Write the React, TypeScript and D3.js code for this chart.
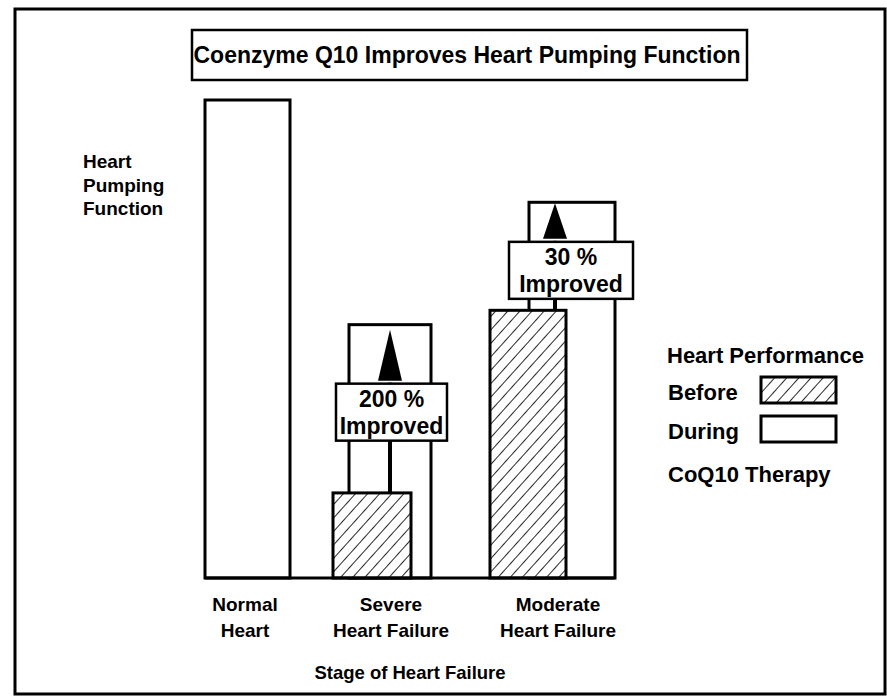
import React, { useEffect, useRef } from 'react';
import * as d3 from 'd3';

// categories along the x axis
const categories = ['Normal', 'Severe', 'Moderate'];
const categoryLabels = [['Normal', 'Heart'], ['Severe', 'Heart Failure'], ['Moderate', 'Heart Failure']];

// heart pumping function (normal heart = 100)
const beforeValues = [null, 17.8, 56];
const duringValues = [100, 53, 78.6];
const improvementLabels = [null, '200 %', '30 %'];

const yLabelLines = ['Heart', 'Pumping', 'Function'];
const legendTitle = 'Heart Performance';
const legendItems = ['Before', 'During'];
const legendFooter = 'CoQ10 Therapy';
const chartTitle = 'Coenzyme Q10 Improves Heart Pumping Function';
const xTitle = 'Stage of Heart Failure';

// hand-drawn layout of each group, offsets from the band start (px)
const groupLayout = [
  { duringX: 0, duringW: 85, beforeX: 0, beforeW: 0, arrowX: 0, boxX: 0, boxW: 0, boxT: 0, tipGap: 0, labelX: 40 },
  { duringX: 4, duringW: 82, beforeX: -12, beforeW: 78, arrowX: 45, boxX: -9, boxW: 111, boxT: 0.48, tipGap: 5, labelX: 46 },
  { duringX: 44, duringW: 86, beforeX: 5, beforeW: 76, arrowX: 70, boxX: 24, boxW: 124, boxT: 0.37, tipGap: 1, labelX: 73 },
];

const FONT = '"Liberation Sans", Arial, Helvetica, sans-serif';

const App = () => {
  const svgRef = useRef<SVGSVGElement>(null);

  useEffect(() => {
    const W = 887;
    const H = 696;
    const svg = d3.select(svgRef.current).attr('width', W).attr('height', H).html('');

    svg.append('rect').attr('width', W).attr('height', H).attr('fill', '#fff');

    // hatch pattern
    const defs = svg.append('defs');
    const pat = defs.append('pattern')
      .attr('id', 'hatch')
      .attr('patternUnits', 'userSpaceOnUse')
      .attr('width', 9)
      .attr('height', 9)
      .attr('patternTransform', 'rotate(42)');
    pat.append('rect').attr('width', 9).attr('height', 9).attr('fill', '#fff');
    pat.append('line')
      .attr('x1', 0).attr('y1', 0).attr('x2', 0).attr('y2', 9)
      .attr('stroke', '#111').attr('stroke-width', 1.8);

    const baseY = 578;
    const y = d3.scaleLinear().domain([0, 100]).range([baseY, 100]);
    const x = d3.scaleBand<string>().domain(categories).range([205, 625]).padding(0);

    // outer frame
    svg.append('rect')
      .attr('x', 15).attr('y', 9).attr('width', 870).attr('height', 685)
      .attr('fill', 'none').attr('stroke', '#000').attr('stroke-width', 3);

    // title box
    svg.append('rect')
      .attr('x', 192).attr('y', 30).attr('width', 555).attr('height', 50)
      .attr('fill', '#fff').attr('stroke', '#000').attr('stroke-width', 2.5);
    svg.append('text')
      .attr('x', 467).attr('y', 63)
      .attr('text-anchor', 'middle')
      .style('font-family', FONT).style('font-size', '23px').style('font-weight', 'bold')
      .text(chartTitle);

    const g = svg.append('g');

    // during bars
    categories.forEach((c, i) => {
      const L = groupLayout[i];
      const x0 = x(c)!;
      g.append('rect')
        .attr('x', x0 + L.duringX).attr('y', y(duringValues[i]))
        .attr('width', L.duringW).attr('height', baseY - y(duringValues[i]))
        .attr('fill', '#fff').attr('stroke', '#000').attr('stroke-width', 3);
    });

    // before bars, arrows and labels
    categories.forEach((c, i) => {
      const v = beforeValues[i];
      if (v == null) return;
      const L = groupLayout[i];
      const x0 = x(c)!;
      const d = duringValues[i];
      g.append('rect')
        .attr('x', x0 + L.beforeX).attr('y', y(v))
        .attr('width', L.beforeW).attr('height', baseY - y(v))
        .attr('fill', 'url(#hatch)').attr('stroke', '#000').attr('stroke-width', 3);

      const ax = x0 + L.arrowX;
      const boxH = 57;
      const boxCy = y(v + L.boxT * (d - v));
      const boxTop = boxCy - boxH / 2;
      const tipY = y(d) + L.tipGap;
      const headBase = boxTop - 3;

      g.append('line')
        .attr('x1', ax).attr('x2', ax).attr('y1', y(v)).attr('y2', headBase + 2)
        .attr('stroke', '#000').attr('stroke-width', 4);
      g.append('path')
        .attr('d', `M${ax},${tipY}L${ax + 12},${headBase}L${ax - 12},${headBase}Z`)
        .attr('fill', '#000');

      g.append('rect')
        .attr('x', x0 + L.boxX).attr('y', boxTop)
        .attr('width', L.boxW).attr('height', boxH)
        .attr('fill', '#fff').attr('stroke', '#000').attr('stroke-width', 2.5);
      const tx = x0 + L.boxX + L.boxW / 2;
      g.append('text')
        .attr('x', tx).attr('y', boxTop + 23)
        .attr('text-anchor', 'middle')
        .style('font-family', FONT).style('font-size', '23px').style('font-weight', 'bold')
        .text(improvementLabels[i]!);
      g.append('text')
        .attr('x', tx).attr('y', boxTop + 50)
        .attr('text-anchor', 'middle')
        .style('font-family', FONT).style('font-size', '23px').style('font-weight', 'bold')
        .text('Improved');
    });

    // baseline, ends at the right edge of the last bar
    const last = categories.length - 1;
    const baseEnd = x(categories[last])! + groupLayout[last].duringX + groupLayout[last].duringW;
    g.append('line')
      .attr('x1', x.range()[0]).attr('x2', baseEnd)
      .attr('y1', baseY).attr('y2', baseY)
      .attr('stroke', '#000').attr('stroke-width', 3);

    // category labels
    categories.forEach((c, i) => {
      const cx = x(c)! + groupLayout[i].labelX;
      categoryLabels[i].forEach((t, j) => {
        g.append('text')
          .attr('x', cx).attr('y', 611 + j * 26)
          .attr('text-anchor', 'middle')
          .style('font-family', FONT).style('font-size', '19px').style('font-weight', 'bold')
          .text(t);
      });
    });

    svg.append('text')
      .attr('x', 410).attr('y', 679)
      .attr('text-anchor', 'middle')
      .style('font-family', FONT).style('font-size', '18.5px').style('font-weight', 'bold')
      .text(xTitle);

    // y label
    yLabelLines.forEach((t, j) => {
      svg.append('text')
        .attr('x', 83).attr('y', 168 + j * 23.5)
        .style('font-family', FONT).style('font-size', '19px').style('font-weight', 'bold')
        .text(t);
    });

    // legend
    const lg = svg.append('g').style('font-family', FONT).style('font-size', '22px').style('font-weight', 'bold');
    lg.append('text').attr('x', 667).attr('y', 363).text(legendTitle);
    legendItems.forEach((t, j) => {
      const ly = 400 + j * 39;
      lg.append('text').attr('x', 668).attr('y', ly).text(t);
      lg.append('rect')
        .attr('x', 761).attr('y', ly - 23).attr('width', 75).attr('height', 26)
        .attr('fill', j === 0 ? 'url(#hatch)' : '#fff')
        .attr('stroke', '#000').attr('stroke-width', 3);
    });
    lg.append('text').attr('x', 668).attr('y', 482).text(legendFooter);
  }, []);

  return <svg ref={svgRef} style={{ position: 'absolute', left: 0, top: 0 }}></svg>;
};

export default App;
